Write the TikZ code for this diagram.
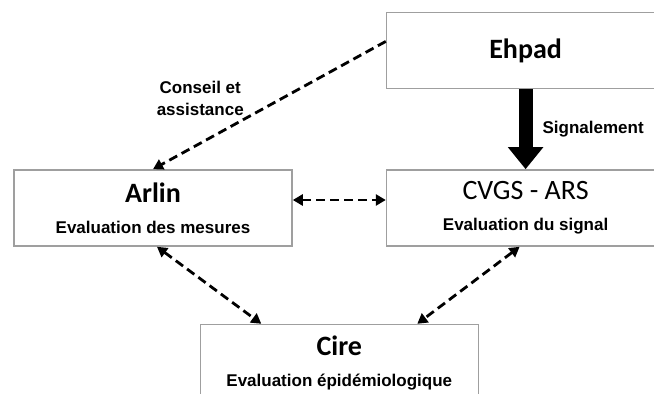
\documentclass[tikz,border=0pt]{standalone}
\usepackage{fontspec}
\setmainfont{Liberation Sans}
\newfontfamily\calibrifont{Carlito}
\usetikzlibrary{arrows.meta,positioning,calc}
\newcommand{\boxhead}{\calibrifont\fontsize{28}{32}\selectfont}

\begin{document}
\begin{tikzpicture}[x=1pt,y=1pt,
node distance=80pt and 93pt,
box/.style={draw=gray!75,line width=1.6pt,fill=white,align=center,minimum width=278pt,minimum height=76pt,inner sep=0pt,font=\bfseries\fontsize{17}{31}\selectfont},
lbl/.style={font=\bfseries\fontsize{17}{22}\selectfont,align=center,inner sep=1pt},
dashline/.style={line width=2.8pt,dash pattern=on 9pt off 5pt},
big arr/.style={-{Triangle[length=22pt,width=34pt]},line width=14pt}]
\useasboundingbox (0,0) rectangle (654,394);
\clip (0,0) rectangle (654,394);
\node[box] (arlin) at (153,186) {{\boxhead\bfseries Arlin}\\Evaluation des mesures};
\node[box,right=of arlin] (cvgs) {{\boxhead\mdseries CVGS - ARS}\\Evaluation du signal};
\node[box,above=of cvgs] (ehpad) {\boxhead\bfseries Ehpad};
\coordinate (mid) at ($(arlin.south east)!0.5!(cvgs.south west)$);
\node[box,below=77pt of mid] (cire) {{\boxhead\bfseries Cire}\\Evaluation épidémiologique};
% flows
\draw[dashline,-{Triangle[length=10pt,width=11pt]}] ([yshift=9pt]ehpad.west) -- node[lbl,pos=0.6,above left=0pt] {Conseil et\\assistance} (arlin.north);
\draw[big arr] (ehpad.south) -- node[lbl,right=9pt] {Signalement} (cvgs.north);
\draw[dashline,{Triangle[length=10pt,width=11pt]}-{Triangle[length=10pt,width=11pt]}] ([yshift=8pt]arlin.east) -- ([yshift=8pt]cvgs.west);
\draw[dashline,{Triangle[length=10pt,width=11pt]}-{Triangle[length=10pt,width=11pt]}] ([xshift=4pt]arlin.south) -- ([xshift=-78pt]cire.north);
\draw[dashline,{Triangle[length=10pt,width=11pt]}-{Triangle[length=10pt,width=11pt]}] ([xshift=-6pt]cvgs.south) -- ([xshift=78pt]cire.north);
\end{tikzpicture}
\end{document}
